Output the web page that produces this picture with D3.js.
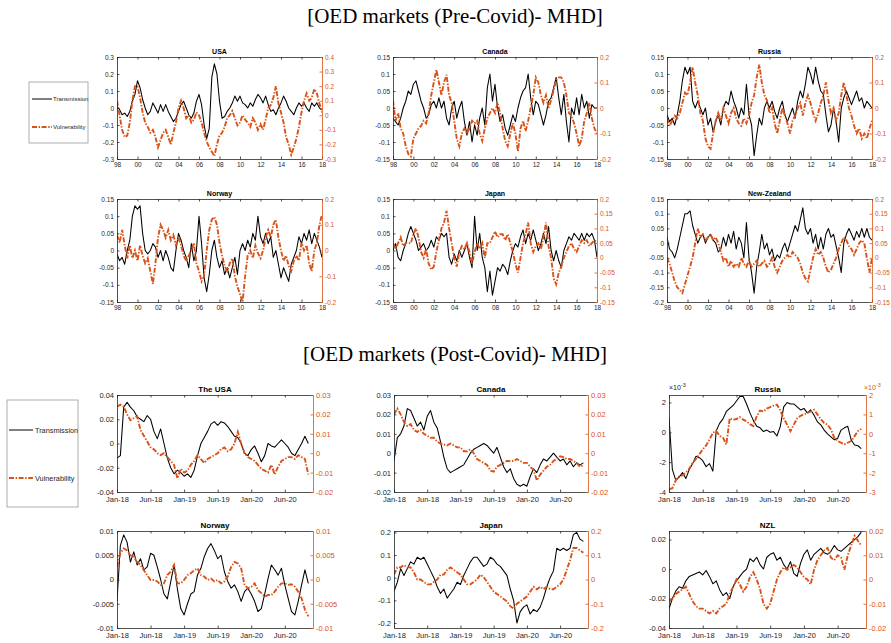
<!DOCTYPE html>
<html>
<head>
<meta charset="utf-8">
<script src="https://cdn.jsdelivr.net/npm/d3@7"></script>
<style>
body { margin: 0; background: #fff; }
svg { display: block; font-family: "Liberation Sans", Arial, sans-serif; }
</style>
</head>
<body>
<svg width="891" height="643"></svg>
<script>
// ---- time axes ----
var preStart = 1998, preStep = 0.25;
var postStart = 2018, postStep = 0.05;
var preTicks = [1998, 2000, 2002, 2004, 2006, 2008, 2010, 2012, 2014, 2016, 2018];
var preTickLabels = ["98", "00", "02", "04", "06", "08", "10", "12", "14", "16", "18"];
var postTicks = [2018, 2018.5, 2019, 2019.5, 2020, 2020.5];
var postTickLabels = ["Jan-18", "Jun-18", "Jan-19", "Jun-19", "Jan-20", "Jun-20"];

// ---- Pre-Covid series, quarterly from 1998 ----
var usaPreT = [
  0.01, -0.01, -0.04, -0.03, -0.05, -0.02, 0.04, 0.08,
  0.16, 0.12, 0.05, 0.0, -0.04, -0.02, 0.03, 0.0,
  -0.03, 0.02, -0.02, 0.02, -0.02, -0.05, -0.08, -0.06,
  -0.02, 0.02, 0.04, 0.0, -0.04, -0.06, -0.03, 0.04,
  0.08, 0.02, -0.1, -0.18, -0.12, 0.18, 0.26, 0.2,
  0.04, -0.06, -0.05, -0.02, 0.0, 0.03, 0.07, 0.04,
  0.07, 0.03, 0.02, 0.0, 0.03, 0.01, 0.05, 0.08,
  0.06, 0.03, 0.07, 0.02, -0.02, -0.01, -0.04, 0.0,
  0.03, 0.07, 0.04, 0.0, -0.02, -0.04, 0.0, 0.03,
  0.01, 0.03, 0.0, -0.02, 0.03, 0.01, 0.03, 0.0,
  -0.01];
var usaPreV = [
  0.1, 0.0, -0.1, -0.15, -0.14, -0.05, 0.1, 0.2,
  0.2, 0.12, 0.02, -0.05, -0.08, -0.12, -0.1, -0.15,
  -0.22, -0.17, -0.12, -0.1, -0.15, -0.2, -0.12, -0.05,
  0.05, 0.1, 0.05, -0.02, 0.0, -0.05, -0.03, 0.02,
  0.0, -0.05, -0.12, -0.18, -0.22, -0.25, -0.28, -0.2,
  -0.14, -0.12, -0.08, -0.02, 0.0, 0.03, -0.02, -0.07,
  -0.05, 0.0, -0.03, -0.05, -0.08, -0.02, -0.05, -0.1,
  -0.06, -0.1, -0.03, 0.05, 0.07, 0.12, 0.2, 0.08,
  0.02, -0.05, -0.15, -0.2, -0.27, -0.22, -0.16, -0.08,
  0.02, 0.1, 0.15, 0.1, 0.12, 0.18, 0.15, 0.08,
  0.02];
var canPreT = [
  -0.03, -0.04, -0.05, -0.03, 0.0, 0.02, 0.05, 0.04,
  0.07, 0.08, 0.05, 0.02, 0.0, -0.03, -0.02, 0.01,
  0.02, 0.0, 0.03, 0.0, 0.02, -0.03, -0.05, 0.0,
  0.02, -0.03, 0.0, 0.02, -0.04, -0.08, -0.04, -0.1,
  -0.05, -0.08, -0.03, 0.0, -0.05, 0.06, 0.1, 0.02,
  0.07, 0.0, -0.04, -0.02, -0.06, -0.08, -0.05, -0.02,
  -0.04, 0.0, 0.03, 0.05, 0.06, 0.1, 0.03, -0.02,
  0.02, 0.01, -0.02, -0.05, -0.02, 0.02, 0.03, 0.06,
  0.09, 0.03, -0.02, 0.04, -0.04, -0.1, 0.0, -0.02,
  0.03, -0.02, 0.04, 0.0, 0.02, -0.03, 0.01, 0.0,
  0.0];
var canPreV = [
  0.03, -0.05, -0.02, -0.08, -0.1, -0.15, -0.18, -0.19,
  -0.12, -0.1, -0.08, -0.07, -0.05, -0.06, -0.02, 0.05,
  0.1, 0.15, 0.1, 0.05, 0.1, 0.13, 0.05, 0.02,
  -0.05, -0.12, -0.15, -0.1, -0.08, -0.1, -0.08, -0.05,
  -0.06, -0.05, -0.1, -0.13, -0.08, -0.04, -0.02, 0.0,
  -0.02, 0.02, -0.02, -0.08, -0.13, -0.15, -0.1, -0.06,
  -0.1, -0.17, -0.08, -0.05, -0.09, -0.05, 0.0, 0.05,
  0.12, 0.1, 0.05, 0.02, 0.05, 0.0, 0.03, 0.07,
  0.11, 0.12, 0.12, 0.1, 0.05, -0.02, -0.03, -0.06,
  -0.1, -0.15, -0.12, -0.05, -0.02, 0.02, -0.04, -0.08,
  -0.1];
var rusPreT = [
  -0.02, -0.04, -0.03, -0.05, -0.02, 0.02, 0.08, 0.12,
  0.1, 0.12, 0.02, 0.0, 0.02, 0.0, -0.02, 0.0,
  -0.05, -0.03, -0.07, -0.04, -0.02, -0.05, 0.0, 0.02,
  0.01, 0.05, 0.02, 0.0, -0.03, 0.0, -0.02, 0.07,
  -0.02, -0.05, -0.14, -0.08, -0.03, -0.05, 0.0, 0.02,
  0.0, 0.02, -0.01, -0.03, 0.0, 0.02, -0.02, -0.04,
  -0.02, 0.0, -0.03, 0.02, 0.05, 0.03, 0.07, 0.12,
  0.1, 0.07, 0.12, 0.08, 0.05, 0.04, -0.02, -0.07,
  -0.05, 0.0, -0.04, -0.1, 0.0, 0.03, 0.05, 0.03,
  0.01, 0.03, 0.05, 0.02, 0.03, 0.0, 0.02, 0.01,
  0.0];
var rusPreV = [
  -0.04, -0.07, -0.05, -0.03, -0.04, -0.02, 0.02, 0.06,
  0.05, 0.1, 0.16, 0.1, 0.05, -0.02, -0.05, -0.12,
  -0.15, -0.16, -0.1, -0.05, -0.02, -0.05, 0.0, -0.03,
  -0.06, -0.02, 0.0, -0.04, -0.06, -0.07, -0.04, -0.06,
  -0.03, 0.02, 0.05, 0.12, 0.17, 0.1, 0.05, 0.03,
  -0.02, 0.0, -0.06, -0.1, -0.05, 0.0, -0.03, -0.06,
  -0.1, -0.05, -0.03, 0.0, 0.02, -0.03, 0.02, 0.05,
  0.02, -0.02, -0.05, -0.02, 0.02, 0.05, 0.1, 0.03,
  -0.02, 0.0, -0.05, -0.02, 0.05, 0.1, 0.05, 0.0,
  -0.03, -0.07, -0.1, -0.08, -0.12, -0.1, -0.12, -0.08,
  -0.05];
var norPreT = [
  -0.01, -0.03, -0.02, -0.04, 0.0, 0.03, 0.1, 0.13,
  0.12, 0.13, 0.05, 0.0, -0.01, 0.0, 0.02, 0.01,
  -0.02, 0.0, -0.03, 0.0, -0.02, -0.05, -0.06, 0.0,
  0.05, 0.03, 0.0, -0.02, -0.05, 0.02, -0.03, 0.0,
  0.1, 0.02, -0.08, -0.12, -0.07, 0.0, 0.03, -0.02,
  -0.05, -0.03, -0.07, -0.05, -0.08, -0.05, -0.02, -0.07,
  0.0, 0.02, 0.0, 0.03, 0.01, 0.05, 0.03, 0.1,
  0.04, 0.02, 0.05, 0.02, 0.04, -0.02, 0.0, -0.04,
  -0.08, -0.05, -0.07, -0.09, -0.04, -0.02, 0.0, 0.04,
  0.02, 0.05, 0.03, 0.06, 0.02, 0.05, 0.03, 0.01,
  -0.02];
var norPreV = [
  0.06, 0.03, 0.08, 0.02, -0.03, 0.02, -0.03, 0.0,
  -0.04, 0.02, -0.02, -0.05, -0.03, -0.08, -0.13, -0.05,
  0.05, 0.1, 0.08, 0.05, 0.08, 0.04, 0.06, 0.02,
  0.05, 0.02, -0.02, -0.04, -0.02, 0.0, 0.03, -0.05,
  -0.08, -0.12, -0.1, 0.0, 0.08, 0.12, 0.13, 0.1,
  0.03, -0.02, -0.06, -0.08, -0.05, -0.03, -0.1, -0.14,
  -0.17, -0.2, -0.1, -0.02, 0.0, -0.03, 0.02, -0.01,
  -0.03, 0.0, 0.05, 0.08, 0.05, 0.1, 0.12, 0.05,
  0.0, -0.04, -0.02, -0.06, -0.08, -0.04, -0.02, -0.04,
  0.03, 0.0, 0.02, -0.05, -0.08, 0.0, 0.03, 0.1,
  0.14];
var jpnPreT = [
  0.0, 0.02, -0.02, -0.03, 0.0, 0.02, 0.05, 0.07,
  0.05, 0.03, 0.0, 0.01, 0.02, 0.0, 0.01, 0.03,
  0.01, 0.04, 0.03, 0.05, 0.04, 0.05, -0.02, -0.04,
  -0.01, -0.03, 0.0, -0.02, 0.0, 0.02, -0.02, -0.05,
  0.1, 0.0, 0.05, -0.02, -0.05, -0.12, -0.06, -0.13,
  -0.09, -0.05, -0.06, -0.04, -0.05, -0.07, -0.03, 0.0,
  0.02, 0.01, 0.04, 0.06, 0.02, 0.05, 0.03, 0.06,
  0.03, 0.0, 0.02, 0.05, 0.02, 0.07, 0.0, -0.03,
  0.0, -0.03, -0.05, 0.0, 0.02, 0.04, 0.03, 0.05,
  0.04, 0.03, 0.05, 0.03, 0.05, 0.04, 0.05, 0.03,
  -0.02];
var jpnPreV = [
  0.05, 0.03, 0.05, 0.07, 0.04, 0.05, 0.05, 0.05,
  0.08, 0.1, 0.07, 0.02, 0.0, 0.03, -0.02, -0.04,
  -0.03, 0.02, 0.06, 0.1, 0.12, 0.16, 0.1, 0.05,
  0.0, -0.03, 0.02, 0.04, 0.03, 0.05, 0.02, -0.02,
  0.02, 0.05, 0.03, 0.05, 0.0, 0.05, 0.05, 0.07,
  0.09, 0.07, 0.08, 0.08, 0.06, 0.08, 0.05, 0.02,
  -0.02, -0.05, 0.0, 0.05, 0.08, 0.12, 0.05, 0.02,
  0.04, 0.05, 0.03, 0.07, 0.12, 0.04, 0.0, -0.07,
  -0.09, -0.05, -0.03, 0.0, 0.02, 0.04, 0.05, 0.03,
  0.02, 0.04, 0.06, 0.05, 0.06, 0.04, 0.05, 0.06,
  0.05];
var nzPreT = [
  0.02, -0.02, -0.03, -0.05, -0.02, 0.02, 0.06, 0.1,
  0.1, 0.11, 0.06, 0.03, 0.0, 0.02, 0.03, 0.0,
  0.02, 0.03, 0.01, 0.0, -0.03, -0.02, 0.02, -0.01,
  0.03, 0.0, 0.04, -0.02, 0.02, 0.0, -0.05, 0.07,
  -0.05, -0.1, -0.17, -0.08, -0.03, 0.03, -0.02, 0.0,
  -0.04, -0.02, -0.06, -0.04, -0.05, -0.02, 0.0, -0.03,
  0.0, 0.03, 0.06, 0.04, 0.08, 0.12, 0.05, 0.03,
  0.05, 0.0, 0.03, -0.02, 0.02, -0.02, 0.03, 0.05,
  0.02, 0.03, -0.01, -0.05, -0.1, 0.0, 0.03, 0.05,
  0.03, 0.01, 0.04, 0.02, 0.05, 0.02, 0.05, 0.02,
  0.01];
var nzPreV = [
  0.0, -0.02, -0.05, -0.08, -0.1, -0.11, -0.12, -0.09,
  -0.06, -0.03, 0.0, 0.05, 0.1, 0.07, 0.08, 0.06,
  0.07, 0.08, 0.06, 0.07, 0.05, 0.02, -0.01, 0.0,
  -0.03, -0.01, -0.03, -0.02, -0.03, 0.0, -0.02, -0.03,
  -0.01, -0.03, -0.02, -0.01, -0.03, -0.02, -0.01, -0.03,
  -0.02, 0.0, -0.03, -0.05, -0.03, -0.01, 0.0, 0.01,
  0.0, 0.02, 0.01, 0.0, -0.02, -0.05, -0.07, -0.08,
  -0.04, 0.0, 0.03, 0.01, 0.02, 0.0, -0.03, -0.05,
  -0.04, -0.02, 0.0, 0.03, 0.05, 0.07, 0.06, 0.04,
  0.03, 0.01, 0.03, 0.05, 0.06, 0.05, 0.0, -0.05,
  0.0];

// ---- Post-Covid series, every 0.05 yr from Jan-2018 ----
var usaPostT = [
  -0.012, -0.01, 0.03, 0.034, 0.03, 0.027, 0.022, 0.02, 0.018, 0.023, 0.02, 0.01, 0.004, 0.012, 0.0, -0.012, -0.02, -0.025, -0.022, -0.024,
  -0.027, -0.025, -0.028, -0.022, -0.01, 0.0, 0.005, 0.01, 0.016, 0.018, 0.015, 0.018, 0.017, 0.014, 0.01, 0.006, 0.005, 0.0, -0.008, -0.01,
  -0.005, -0.002, -0.008, -0.015, -0.01, 0.0, -0.002, -0.003, 0.0, 0.003, 0.0, -0.003, -0.008, -0.01, -0.005, 0.0, 0.006, 0.0];
var usaPostV = [
  0.024, 0.025, 0.024, 0.02, 0.017, 0.018, 0.019, 0.012, 0.009, 0.006, 0.003, 0.002, 0.0, -0.001, 0.0, -0.002, -0.004, -0.006, -0.013, -0.008,
  -0.01, -0.009, -0.006, -0.004, -0.001, -0.003, -0.005, -0.003, -0.002, -0.001, 0.0, 0.002, 0.003, 0.001, 0.002, 0.005, 0.011, 0.005, 0.0, -0.002,
  -0.003, -0.004, -0.006, -0.008, -0.009, -0.01, -0.006, -0.011, -0.007, -0.004, -0.003, -0.002, -0.002, -0.003, -0.001, -0.002, -0.003, -0.011];
var canPostT = [
  -0.004, 0.008, 0.01, 0.014, 0.023, 0.022, 0.018, 0.014, 0.016, 0.012, 0.019, 0.022, 0.016, 0.013, 0.006, -0.002, -0.008, -0.01, -0.009, -0.008,
  -0.007, -0.006, -0.003, 0.0, 0.002, 0.003, 0.004, 0.005, 0.004, 0.002, 0.0, 0.003, -0.002, -0.007, -0.01, -0.008, -0.013, -0.016, -0.017, -0.016,
  -0.017, -0.012, -0.008, -0.01, -0.006, -0.003, -0.004, -0.002, 0.0, -0.002, -0.004, -0.003, -0.006, -0.004, -0.007, -0.005, -0.006, -0.005];
var canPostV = [
  0.02, 0.023, 0.02, 0.016, 0.014, 0.015, 0.012, 0.011, 0.012, 0.01, 0.009, 0.008, 0.008, 0.006, 0.005, 0.0045, 0.004, 0.005, 0.004, 0.003,
  0.003, 0.001, 0.001, 0.002, 0.0, -0.003, -0.004, -0.005, -0.006, -0.009, -0.0095, -0.007, -0.006, -0.005, -0.004, -0.004, -0.004, -0.003, -0.004, -0.005,
  -0.005, -0.007, -0.0086, -0.014, -0.011, -0.009, -0.007, -0.006, -0.004, -0.003, -0.0016, -0.002, -0.003, -0.003, -0.004, -0.005, -0.007, -0.006];
// Russia post values are in units of 1e-3
var rusPostT = [
  1.0, -2.5, -3.2, -3.0, -2.7, -3.1, -2.5, -2.1, -1.6, -1.7, -1.9, -2.3, -2.1, -2.6, 0.1, 0.6, 0.9, 1.4, 1.6, 1.8,
  2.1, 2.4, 2.4, 1.9, 1.3, 0.8, 0.4, 0.3, 0.05, 0.15, 0.0, 0.05, -0.25, 0.4, 1.7, 2.0, 1.9, 1.9, 1.7, 1.5,
  1.6, 1.3, 1.5, 1.15, 0.7, 0.5, 0.15, -0.1, -0.3, -0.5, -0.4, 0.15, 0.3, 0.4, -0.5, -0.85, -0.9, -1.1];
var rusPostV = [
  -2.86, -2.8, -2.4, -2.2, -2.15, -2.0, -1.8, -1.5, -1.3, -1.05, -0.8, -0.6, -0.3, 0.05, 0.14, -0.1, -0.2, -0.55, 0.8, 0.73,
  0.76, 0.86, 0.73, 0.64, 0.5, 0.4, 0.9, 1.2, 1.15, 1.3, 1.37, 1.45, 1.5, 1.2, 0.8, 0.47, 0.13, 0.47, 0.8, 0.93,
  1.0, 1.07, 1.15, 1.24, 1.0, 0.76, 0.56, 0.47, 0.22, -0.2, -0.37, -0.46, -0.54, -0.46, -0.37, -0.12, 0.14, 0.25];
var norPostT = [
  -0.0045, 0.007, 0.0092, 0.0077, 0.0036, 0.0057, 0.003, 0.0043, 0.002, 0.0026, 0.0054, 0.005, 0.0026, 0.0, -0.003, -0.004, -0.0005, 0.003, -0.002, -0.006,
  -0.0073, -0.005, -0.003, -0.0025, 0.001, 0.0023, 0.0047, 0.0064, 0.0074, 0.006, 0.0043, 0.005, 0.0016, -0.0004, -0.0018, -0.0011, -0.0025, -0.0045, -0.0025, -0.0018,
  -0.003, -0.0045, -0.0066, -0.006, -0.003, 0.0002, 0.003, 0.002, 0.0009, 0.0023, -0.0011, -0.0039, -0.0066, -0.0073, -0.0045, -0.0011, 0.002, -0.0008];
var norPostV = [
  0.0026, 0.0054, 0.0064, 0.006, 0.005, 0.0047, 0.0036, 0.003, 0.0019, 0.0009, -0.0001, -0.0001, -0.0004, -0.0011, -0.0008, 0.0009, 0.0016, 0.003, -0.0008, -0.0008,
  -0.0001, 0.0009, 0.0013, 0.0019, 0.0023, 0.0009, 0.0006, -0.0001, 0.0002, -0.0004, -0.0001, -0.0008, -0.0004, 0.0006, 0.0026, 0.0036, 0.0033, 0.0023, -0.0011, -0.0018,
  -0.0015, -0.0008, -0.0022, -0.0028, -0.0035, -0.0032, -0.0032, -0.0025, -0.0015, -0.0008, -0.0008, -0.0011, -0.001, -0.0015, -0.0025, -0.0039, -0.0062, -0.0076];
var jpnPostT = [
  -0.06, -0.02, 0.04, 0.01, 0.04, 0.07, 0.06, 0.09, 0.08, 0.09, 0.06, 0.03, 0.0, -0.04, -0.07, -0.05, -0.09, -0.07, -0.05, -0.02,
  -0.03, 0.01, 0.04, 0.07, 0.09, 0.09, 0.07, 0.05, 0.06, 0.09, 0.08, 0.06, 0.05, 0.03, 0.01, -0.05, -0.1, -0.2, -0.15, -0.13,
  -0.12, -0.16, -0.14, -0.15, -0.13, -0.09, -0.04, 0.0, 0.03, 0.13, 0.12, 0.13, 0.12, 0.13, 0.19, 0.2, 0.17, 0.16];
var jpnPostV = [
  0.02, 0.05, 0.05, 0.06, 0.05, 0.05, 0.03, 0.0, 0.0, -0.01, -0.02, -0.02, -0.01, 0.0, 0.02, 0.02, 0.04, 0.05, 0.04, 0.03,
  0.02, 0.0, -0.02, -0.02, -0.01, 0.0, 0.02, 0.01, -0.01, -0.03, -0.05, -0.06, -0.07, -0.08, -0.09, -0.11, -0.12, -0.1, -0.09, -0.08,
  -0.07, -0.05, -0.03, -0.04, -0.03, -0.04, -0.03, -0.04, -0.04, -0.03, -0.02, 0.0, 0.04, 0.08, 0.13, 0.13, 0.12, 0.11];
var nzlPostT = [
  -0.027, -0.02, -0.015, -0.012, -0.013, -0.008, -0.005, -0.004, -0.003, -0.002, -0.004, -0.001, -0.005, -0.01, -0.008, -0.014, -0.018, -0.016, -0.02, -0.012,
  -0.008, -0.005, -0.002, 0.0, 0.007, 0.005, 0.008, 0.003, 0.0, 0.008, 0.01, 0.011, 0.006, 0.008, 0.003, 0.0, 0.005, -0.003, -0.005, 0.004,
  0.01, 0.013, 0.006, 0.01, 0.012, 0.014, 0.011, 0.01, 0.012, 0.016, 0.013, 0.012, 0.014, 0.016, 0.018, 0.02, 0.022, 0.025];
var nzlPostV = [
  -0.009, -0.008, -0.006, -0.005, -0.004, -0.003, -0.006, -0.009, -0.011, -0.012, -0.012, -0.013, -0.014, -0.013, -0.014, -0.012, -0.011, -0.01, -0.006, -0.003,
  0.0, -0.002, -0.005, -0.003, 0.001, 0.003, 0.0, -0.004, -0.01, -0.012, -0.01, -0.005, 0.0, 0.003, 0.005, 0.004, 0.005, 0.006, 0.005, 0.003,
  0.001, 0.0, -0.002, 0.004, 0.008, 0.01, 0.012, 0.013, 0.009, 0.008, 0.01, 0.009, 0.004, 0.01, 0.014, 0.018, 0.016, 0.014];

// ---- panel setup: [min, max, tick step] for each y axis ----
var panels = [
  { name: "USA", trans: usaPreT, vuln: usaPreV, era: "pre", col: 0, row: 0, left: [-0.3, 0.3, 0.1], right: [-0.3, 0.4, 0.1] },
  { name: "Canada", trans: canPreT, vuln: canPreV, era: "pre", col: 1, row: 0, left: [-0.15, 0.15, 0.05], right: [-0.2, 0.2, 0.1] },
  { name: "Russia", trans: rusPreT, vuln: rusPreV, era: "pre", col: 2, row: 0, left: [-0.15, 0.15, 0.05], right: [-0.2, 0.2, 0.1] },
  { name: "Norway", trans: norPreT, vuln: norPreV, era: "pre", col: 0, row: 1, left: [-0.15, 0.15, 0.05], right: [-0.2, 0.2, 0.1] },
  { name: "Japan", trans: jpnPreT, vuln: jpnPreV, era: "pre", col: 1, row: 1, left: [-0.15, 0.15, 0.05], right: [-0.15, 0.2, 0.05] },
  { name: "New-Zealand", trans: nzPreT, vuln: nzPreV, era: "pre", col: 2, row: 1, left: [-0.2, 0.15, 0.05], right: [-0.15, 0.2, 0.05] },
  { name: "The USA", trans: usaPostT, vuln: usaPostV, era: "post", col: 0, row: 0, left: [-0.04, 0.04, 0.02], right: [-0.02, 0.03, 0.01] },
  { name: "Canada", trans: canPostT, vuln: canPostV, era: "post", col: 1, row: 0, left: [-0.02, 0.03, 0.01], right: [-0.02, 0.03, 0.01] },
  { name: "Russia", trans: rusPostT, vuln: rusPostV, era: "post", col: 2, row: 0, left: [-4, 2.5, 2], right: [-3, 2, 1], exp: true },
  { name: "Norway", trans: norPostT, vuln: norPostV, era: "post", col: 0, row: 1, left: [-0.01, 0.01, 0.005], right: [-0.01, 0.01, 0.005] },
  { name: "Japan", trans: jpnPostT, vuln: jpnPostV, era: "post", col: 1, row: 1, left: [-0.222, 0.206, 0.1], right: [-0.2, 0.2, 0.1] },
  { name: "NZL", trans: nzlPostT, vuln: nzlPostV, era: "post", col: 2, row: 1, left: [-0.04, 0.0258, 0.02], right: [-0.02, 0.02, 0.01] }
];

var layout = {
  pre: { cols: [[117, 322], [393, 597], [667, 872]], rows: [[57, 159], [199, 302]], tick: 6.5, title: 7, pad: 3,
         domain: [1998, 2018], ticks: preTicks, labels: preTickLabels, start: preStart, step: preStep },
  post: { cols: [[117, 313], [394, 588], [669, 866]], rows: [[395, 492], [531, 628]], tick: 7.5, title: 8, pad: 4.5,
          domain: [2018, 2020.92], ticks: postTicks, labels: postTickLabels, start: postStart, step: postStep }
};

var ORANGE = "#D95319", GREY = "#262626";
var DASHDOT = "5,1.6,1.4,1.6";

var svg = d3.select("svg");

function ticksFor(s) {
  var a = Math.ceil(s[0] / s[2] - 1e-9), b = Math.floor(s[1] / s[2] + 1e-9);
  return d3.range(a, b + 1).map(k => +(k * s[2]).toFixed(6));
}
function fmt(v) { return String(+v.toFixed(6)); }

function styleAxis(g, color, size) {
  g.selectAll("path, line").attr("stroke", color).attr("stroke-width", 0.8);
  g.selectAll("text").attr("fill", color).attr("font-size", size).attr("font-family", "Liberation Sans, Arial, sans-serif");
}

panels.forEach(function(p, idx) {
  var L = layout[p.era];
  var x0 = L.cols[p.col][0], x1 = L.cols[p.col][1];
  var y0 = L.rows[p.row][0], y1 = L.rows[p.row][1];

  var x = d3.scaleLinear().domain(L.domain).range([x0, x1]);
  var yL = d3.scaleLinear().domain([p.left[0], p.left[1]]).range([y1, y0]);
  var yR = d3.scaleLinear().domain([p.right[0], p.right[1]]).range([y1, y0]);

  var g = svg.append("g");

  svg.append("clipPath").attr("id", "clip" + idx)
    .append("rect").attr("x", x0).attr("y", y0).attr("width", x1 - x0).attr("height", y1 - y0);

  var pts = d => d.map((v, i) => ({ t: L.start + i * L.step, v: v }));

  var lineL = d3.line().x(d => x(d.t)).y(d => yL(d.v));
  var lineR = d3.line().x(d => x(d.t)).y(d => yR(d.v));

  var lines = g.append("g").attr("clip-path", "url(#clip" + idx + ")");
  lines.append("path").datum(pts(p.trans))
    .attr("d", lineL).attr("fill", "none")
    .attr("stroke", "#000").attr("stroke-width", 1.05).attr("stroke-linejoin", "round");
  lines.append("path").datum(pts(p.vuln))
    .attr("d", lineR).attr("fill", "none")
    .attr("stroke", ORANGE).attr("stroke-width", 1.9).attr("stroke-dasharray", DASHDOT);

  // x axes (bottom with labels, top mirrored ticks)
  var xb = g.append("g").attr("transform", "translate(0," + y1 + ")")
    .call(d3.axisBottom(x).tickValues(L.ticks).tickFormat((d, i) => L.labels[i])
      .tickSize(-2.5).tickSizeOuter(0).tickPadding(L.pad));
  styleAxis(xb, GREY, L.tick);
  var xt = g.append("g").attr("transform", "translate(0," + y0 + ")")
    .call(d3.axisTop(x).tickValues(L.ticks).tickFormat("").tickSize(-2.5).tickSizeOuter(0));
  styleAxis(xt, GREY, L.tick);

  var yl = g.append("g").attr("transform", "translate(" + x0 + ",0)")
    .call(d3.axisLeft(yL).tickValues(ticksFor(p.left)).tickFormat(fmt)
      .tickSize(-2.5).tickSizeOuter(0).tickPadding(3));
  styleAxis(yl, GREY, L.tick);

  var yr = g.append("g").attr("transform", "translate(" + x1 + ",0)")
    .call(d3.axisRight(yR).tickValues(ticksFor(p.right)).tickFormat(fmt)
      .tickSize(-2.5).tickSizeOuter(0).tickPadding(3));
  styleAxis(yr, ORANGE, L.tick);

  g.append("text").attr("x", (x0 + x1) / 2).attr("y", y0 - 3)
    .attr("text-anchor", "middle").attr("font-weight", "bold")
    .attr("font-size", L.title).attr("fill", "#000").text(p.name);

  if (p.exp) {
    [[x0, GREY], [x1 - 2, ORANGE]].forEach(function(e) {
      var t = g.append("text").attr("x", e[0]).attr("y", y0 - 5)
        .attr("font-size", 7).attr("fill", e[1]);
      t.append("tspan").text("\u00d710");
      t.append("tspan").attr("dy", -3).attr("font-size", 5.5).text("-3");
    });
  }
});

// section titles
var heads = [["[OED markets (Pre-Covid)- MHD]", 23], ["[OED markets (Post-Covid)- MHD]", 361]];
heads.forEach(function(h) {
  svg.append("text").attr("x", 455).attr("y", h[1]).attr("text-anchor", "middle")
    .attr("font-family", "Liberation Serif, 'DejaVu Serif', serif")
    .attr("font-size", 21).attr("fill", "#000").text(h[0]);
});

// legends
var legendNames = ["Transmission", "Vulnerability"];
var legends = [
  { x: 29, y: 82, w: 59, h: 61, rows: [99, 127], lx: [32, 52], tx: 53, size: 6 },
  { x: 7, y: 400, w: 71, h: 107, rows: [430, 478], lx: [9, 33], tx: 35, size: 7.3 }
];
legends.forEach(function(l) {
  var g = svg.append("g");
  g.append("rect").attr("x", l.x).attr("y", l.y).attr("width", l.w).attr("height", l.h)
    .attr("fill", "#fff").attr("stroke", "#9a9a9a").attr("stroke-width", 0.8);
  legendNames.forEach(function(name, i) {
    var yy = l.rows[i];
    g.append("line").attr("x1", l.lx[0]).attr("x2", l.lx[1]).attr("y1", yy).attr("y2", yy)
      .attr("stroke", i ? ORANGE : "#000").attr("stroke-width", i ? 1.9 : 1)
      .attr("stroke-dasharray", i ? DASHDOT : null);
    g.append("text").attr("x", l.tx).attr("y", yy + l.size * 0.35)
      .attr("font-size", l.size).attr("fill", GREY).text(name);
  });
});
</script>
</body>
</html>
